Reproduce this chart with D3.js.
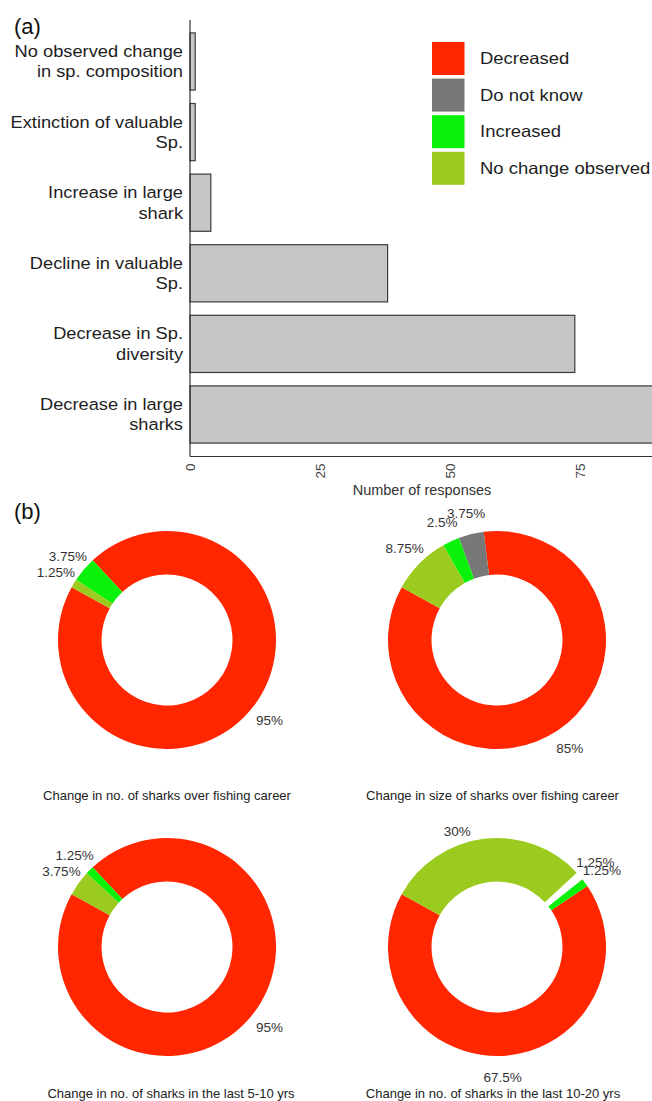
<!DOCTYPE html>
<html>
<head>
<meta charset="utf-8">
<script src="https://cdn.jsdelivr.net/npm/d3@7"></script>
<style>
  body { margin: 0; background: #fff; }
  text { font-family: "Liberation Sans", Arial, sans-serif; }
</style>
</head>
<body>
<div id="chart"></div>
<script>
// ---- data ----
const barCategories = ["No observed change in sp. composition", "Extinction of valuable Sp.",
  "Increase in large shark", "Decline in valuable Sp.", "Decrease in Sp. diversity", "Decrease in large sharks"];
const barLabelLines = [["No observed change", "in sp. composition"], ["Extinction of valuable", "Sp."],
  ["Increase in large", "shark"], ["Decline in valuable", "Sp."], ["Decrease in Sp.", "diversity"],
  ["Decrease in large", "sharks"]];
const barValues = [1, 1, 4, 38, 74, 92];
const xTicks = [0, 25, 50, 75];

const legendCategories = ["Decreased", "Do not know", "Increased", "No change observed"];

const donutTitles = ["Change in no. of sharks over fishing career", "Change in size of sharks over fishing career",
  "Change in no. of sharks in the last 5-10 yrs", "Change in no. of sharks in the last 10-20 yrs"];
const donutCategories = [
  ["Decreased", "Increased", "No change observed"],
  ["Decreased", "Do not know", "Increased", "No change observed"],
  ["Decreased", "Increased", "No change observed"],
  ["Decreased", "Increased", "", "No change observed"]
];
const donutValues = [
  [95, 3.75, 1.25],
  [85, 3.75, 2.5, 8.75],
  [95, 1.25, 3.75],
  [67.5, 1.25, 1.25, 30]
];

const width = 652, height = 1101;

const color = d3.scaleOrdinal()
  .domain(["Decreased", "Do not know", "Increased", "No change observed", ""])
  .range(["#ff2600", "#787878", "#0af20a", "#9bcb1f", "#ffffff"]);

const svg = d3.select("#chart")
  .append("svg")
  .attr("width", width)
  .attr("height", height);

// ---- panel (a): bars ----
const x = d3.scaleLinear().domain([0, 75]).range([190, 580]);
const y = d3.scaleBand().domain(barCategories).range([19.5, 456.5]).padding(0.19);

svg.append("text")
  .attr("x", 14).attr("y", 34)
  .attr("font-size", 22).attr("fill", "#111")
  .text("(a)");

svg.append("g")
  .selectAll("rect")
  .data(barCategories)
  .join("rect")
  .attr("x", x(0))
  .attr("y", d => y(d))
  .attr("width", (d, i) => x(barValues[i]) - x(0))
  .attr("height", y.bandwidth())
  .attr("fill", "#c6c6c6")
  .attr("stroke", "#3a3a3a")
  .attr("stroke-width", 1.2);

// axis lines
svg.append("line")
  .attr("x1", x(0)).attr("x2", x(0)).attr("y1", 20).attr("y2", 456.5)
  .attr("stroke", "#333").attr("stroke-width", 1.2);

const xAxis = svg.append("g")
  .attr("transform", "translate(0,456.5)")
  .call(d3.axisBottom(x).tickValues(xTicks).tickSize(0).tickPadding(0));
xAxis.select(".domain").attr("d", `M${x(0)},0H${width}`).attr("stroke", "#333").attr("stroke-width", 1.2);
xAxis.selectAll(".tick text")
  .attr("transform", "translate(0,7) rotate(-90)")
  .attr("dy", "0.35em")
  .attr("y", 0)
  .attr("text-anchor", "end")
  .attr("font-size", 13.5)
  .attr("font-family", "Liberation Sans, Arial, sans-serif")
  .attr("fill", "#444");

svg.append("text")
  .attr("x", 422).attr("y", 495)
  .attr("text-anchor", "middle")
  .attr("font-size", 14.5).attr("fill", "#333")
  .text("Number of responses");

// category labels
const labelG = svg.append("g")
  .selectAll("g")
  .data(barCategories)
  .join("g")
  .attr("transform", d => `translate(183,${y(d) + y.bandwidth() / 2}) scale(1.12,1)`);
labelG.each(function (d, i) {
  const lines = barLabelLines[i];
  const t = d3.select(this).append("text")
    .attr("text-anchor", "end")
    .attr("font-size", 16.3)
    .attr("fill", "#1e1e1e");
  lines.forEach((ln, j) => {
    t.append("tspan")
      .attr("x", 0)
      .attr("y", (j - (lines.length - 1) / 2) * 20.5)
      .attr("dy", "0.35em")
      .text(ln);
  });
});

// legend
const legend = svg.append("g")
  .selectAll("g")
  .data(legendCategories)
  .join("g")
  .attr("transform", (d, i) => `translate(432,${42 + i * 36.6})`);
legend.append("rect")
  .attr("width", 32.5).attr("height", 33)
  .attr("fill", d => color(d));
legend.append("g")
  .attr("transform", "translate(48,16.5) scale(1.12,1)")
  .append("text")
  .attr("dy", "0.35em")
  .attr("font-size", 16.5)
  .attr("fill", "#1e1e1e")
  .text(d => d);

// ---- panel (b): donuts ----
svg.append("text")
  .attr("x", 14).attr("y", 519)
  .attr("font-size", 22).attr("fill", "#111")
  .text("(b)");

const centers = [[167, 640], [497, 640], [167, 947], [497, 947]];
const captionY = [795, 795, 1093, 1093];
const captionDx = [0, -4.5, 4, -4];
const outerR = 109, innerR = 65.5;
const startRad = -61 * Math.PI / 180;
const labelNudge = { "3-3": [-24, 13] };

const pie = d3.pie()
  .sort(null)
  .value(d => d.value)
  .startAngle(startRad)
  .endAngle(startRad - 2 * Math.PI);
const arc = d3.arc().innerRadius(innerR).outerRadius(outerR);
const labelArc = d3.arc().innerRadius(130).outerRadius(130);

donutValues.forEach((vals, k) => {
  const rows = vals.map((v, i) => ({ cat: donutCategories[k][i], value: v }));
  const arcs = pie(rows);
  const g = svg.append("g")
    .attr("transform", `translate(${centers[k][0]},${centers[k][1]})`);

  g.selectAll("path")
    .data(arcs)
    .join("path")
    .attr("d", arc)
    .attr("fill", d => color(d.data.cat));

  g.selectAll("text.pct")
    .data(arcs)
    .join("text")
    .attr("class", "pct")
    .attr("transform", (d, i) => {
      const [cx, cy] = labelArc.centroid(d);
      const n = labelNudge[`${k}-${i}`] || [0, 0];
      return `translate(${cx + n[0]},${cy + n[1]})`;
    })
    .attr("text-anchor", "middle")
    .attr("dy", "0.35em")
    .attr("font-size", 13.5)
    .attr("fill", "#333")
    .text(d => `${d.data.value}%`);

  svg.append("text")
    .attr("x", centers[k][0] + captionDx[k])
    .attr("y", captionY[k])
    .attr("dy", "0.35em")
    .attr("text-anchor", "middle")
    .attr("font-size", 13)
    .attr("fill", "#222")
    .text(donutTitles[k]);
});
</script>
</body>
</html>
